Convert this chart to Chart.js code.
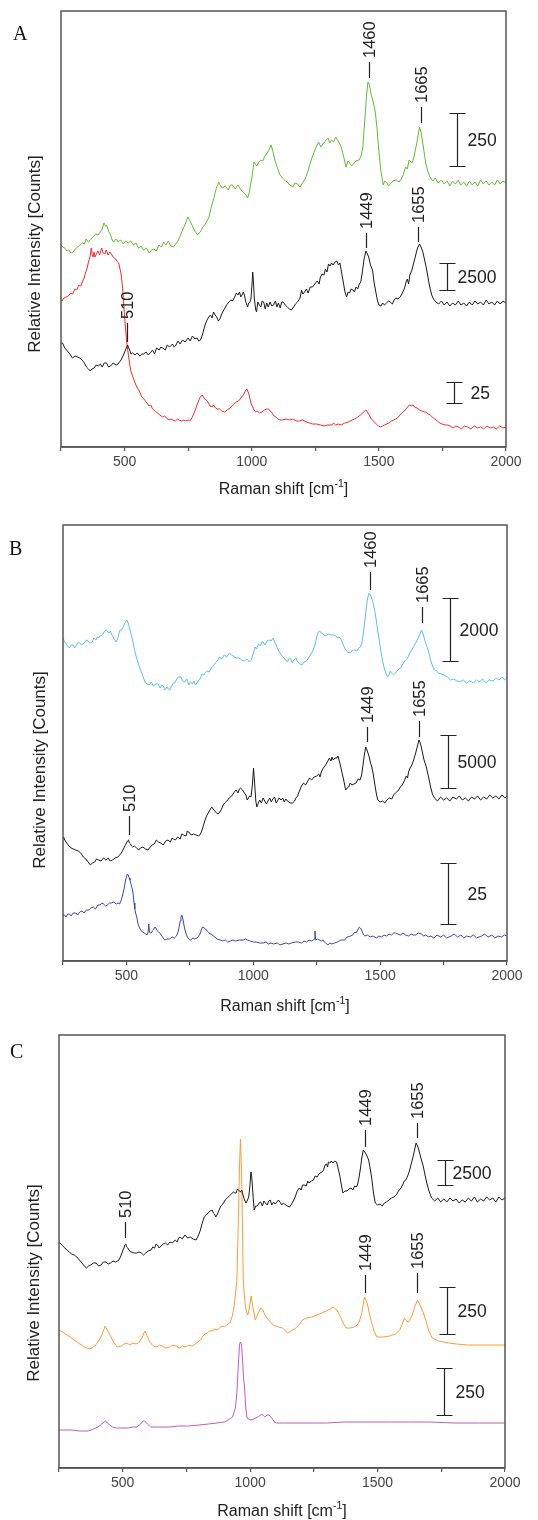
<!DOCTYPE html>
<html><head><meta charset="utf-8">
<script src="https://cdn.jsdelivr.net/npm/chart.js@4.4.0/dist/chart.umd.min.js"></script>
<style>
html,body{margin:0;padding:0;background:#fff;}
body{width:538px;height:1520px;position:relative;overflow:hidden;}
canvas{position:absolute;left:0;}
</style></head><body>
<canvas id="cA" width="538" height="510" style="top:0px"></canvas>
<canvas id="cB" width="538" height="510" style="top:510px"></canvas>
<canvas id="cC" width="538" height="500" style="top:1020px"></canvas>
<script>
// ===== DATA: [Raman shift cm-1, relative intensity (offset, arbitrary units)] =====
const spectrumA_green = [[250,202],[258,200],[265,199],[273,196],[280,197],[290,194],[298,195],[306,198],[315,200],[325,202],[335,204],[342,203],[349,208],[357,205],[365,207],[376,210],[387,213],[396,212],[405,215],[412,218],[419,224],[425,221],[430,222],[437,216],[445,212],[451,207],[457,205],[466,208],[475,205],[485,207],[495,203],[504,206],[514,204],[524,206],[535,202],[545,204],[555,199],[565,201],[575,197],[586,199],[597,194],[606,197],[615,198],[625,196],[635,202],[645,200],[654,205],[663,202],[672,206],[682,201],[692,200],[701,203],[710,206],[720,212],[730,218],[740,224],[749,230],[757,226],[765,222],[776,216],[787,212],[800,216],[808,220],[815,222],[824,226],[832,230],[841,240],[850,248],[860,258],[870,265],[878,261],[885,259],[896,261],[908,257],[916,262],[925,262],[935,258],[946,262],[955,258],[965,255],[975,253],[984,249],[990,254],[995,262],[1001,270],[1009,285],[1020,281],[1028,285],[1035,287],[1043,286],[1050,290],[1063,295],[1070,298],[1076,302],[1083,296],[1090,288],[1100,280],[1111,272],[1118,270],[1125,268],[1133,266],[1140,265],[1150,262],[1162,260],[1170,264],[1180,263],[1190,260],[1200,264],[1210,268],[1220,275],[1228,282],[1238,290],[1250,298],[1263,305],[1272,300],[1280,303],[1290,306],[1300,309],[1307,304],[1314,307],[1322,305],[1330,310],[1340,306],[1352,300],[1362,290],[1371,280],[1378,286],[1385,284],[1393,281],[1400,283],[1410,286],[1422,287],[1430,291],[1437,300],[1445,328],[1451,350],[1457,365],[1463,362],[1470,352],[1478,345],[1486,335],[1493,318],[1500,296],[1508,276],[1517,262],[1523,266],[1530,265],[1538,261],[1545,263],[1555,266],[1568,267],[1580,265],[1593,270],[1605,280],[1612,278],[1619,287],[1630,284],[1638,290],[1650,305],[1660,320],[1666,315],[1672,305],[1685,283],[1692,276],[1701,270],[1712,266],[1722,269],[1733,264],[1746,267],[1757,263],[1768,266],[1779,261],[1790,266],[1801,263],[1812,267],[1822,262],[1834,265],[1845,261],[1856,266],[1867,262],[1878,265],[1889,261],[1900,267],[1911,263],[1922,266],[1933,262],[1944,265],[1955,262],[1966,267],[1977,263],[1988,266],[2000,264]];
const spectrumA_black = [[250,104],[256,104],[265,99],[275,96],[285,93],[295,89],[305,91],[315,90],[324,89],[333,87],[342,84],[350,80],[358,78],[365,76],[372,78],[380,79],[388,82],[397,81],[405,83],[412,80],[420,84],[429,84],[437,80],[445,81],[455,84],[467,82],[474,83],[480,85],[486,87],[492,90],[499,94],[505,98],[512,102],[516,99],[520,97],[525,93],[531,94],[541,92],[550,94],[560,91],[568,93],[575,93],[585,95],[593,92],[600,94],[610,97],[618,93],[626,99],[636,97],[643,100],[650,99],[660,97],[668,102],[677,100],[688,103],[695,100],[700,101],[710,106],[718,103],[728,107],[738,105],[750,109],[758,106],[767,111],[777,108],[785,109],[792,106],[799,107],[806,112],[812,118],[818,123],[824,127],[831,130],[838,132],[844,129],[850,135],[856,132],[862,130],[869,126],[875,128],[882,133],[888,136],[895,139],[901,142],[910,145],[918,147],[925,146],[933,150],[940,154],[946,152],[952,155],[957,150],[962,152],[967,155],[971,152],[977,145],[984,140],[988,144],[993,145],[997,148],[1001,162],[1004,175],[1007,165],[1010,150],[1015,138],[1019,135],[1024,145],[1030,142],[1036,140],[1041,146],[1047,145],[1053,138],[1059,144],[1065,140],[1072,145],[1079,141],[1086,142],[1093,146],[1099,140],[1105,144],[1112,139],[1118,145],[1124,145],[1132,142],[1140,140],[1148,138],[1156,137],[1165,140],[1172,143],[1180,145],[1190,149],[1196,157],[1201,153],[1208,155],[1215,158],[1222,154],[1230,160],[1239,160],[1248,163],[1258,166],[1265,163],[1270,170],[1277,173],[1284,172],[1290,178],[1296,175],[1302,183],[1308,181],[1314,184],[1320,182],[1328,185],[1335,186],[1341,182],[1347,184],[1353,175],[1360,165],[1366,156],[1373,150],[1379,155],[1385,154],[1391,158],[1398,157],[1404,155],[1410,160],[1417,158],[1423,163],[1429,165],[1435,175],[1442,188],[1449,196],[1455,193],[1460,190],[1467,182],[1475,177],[1481,165],[1488,155],[1494,147],[1500,142],[1508,141],[1515,144],[1522,142],[1530,144],[1538,146],[1545,145],[1553,143],[1560,147],[1567,149],[1575,148],[1584,150],[1592,154],[1600,158],[1607,165],[1612,168],[1617,163],[1622,172],[1630,177],[1638,185],[1645,192],[1652,199],[1660,203],[1666,200],[1673,195],[1680,187],[1686,180],[1693,170],[1700,160],[1708,152],[1715,148],[1724,145],[1735,143],[1746,146],[1757,142],[1768,145],[1779,141],[1790,144],[1801,142],[1812,146],[1823,142],[1834,144],[1845,141],[1856,145],[1867,142],[1878,146],[1889,143],[1900,145],[1911,142],[1922,147],[1933,143],[1944,145],[1955,142],[1966,146],[1977,143],[1988,146],[2000,144]];
const spectrumA_red = [[250,147],[254,146],[262,149],[270,150],[279,151],[288,154],[296,153],[305,158],[312,157],[320,162],[328,161],[335,166],[340,168],[346,174],[352,178],[358,185],[364,190],[369,199],[373,192],[376,190],[380,195],[384,190],[389,193],[395,196],[402,192],[410,199],[416,194],[422,193],[428,197],[435,192],[442,195],[448,193],[455,190],[461,189],[467,187],[472,185],[477,184],[480,180],[485,175],[489,167],[492,160],[495,150],[499,134],[504,118],[509,104],[516,90],[524,77],[530,72],[537,67],[543,63],[550,59],[558,56],[568,50],[576,48],[588,44],[596,41],[603,42],[610,38],[620,36],[630,34],[639,32],[650,30],[657,31],[665,29],[675,27],[683,28],[690,27],[700,26],[708,28],[715,27],[725,26],[733,27],[741,26],[750,27],[757,26],[767,30],[775,35],[785,42],[792,47],[798,50],[805,52],[810,50],[815,48],[822,47],[830,44],[836,41],[843,40],[850,42],[858,39],[865,38],[874,38],[882,36],[894,35],[903,37],[915,39],[922,41],[930,43],[939,45],[948,46],[955,48],[960,50],[967,52],[975,56],[981,58],[986,55],[990,52],[995,46],[1000,42],[1007,38],[1015,35],[1022,36],[1030,34],[1040,35],[1050,37],[1058,38],[1066,38],[1073,36],[1080,34],[1088,31],[1095,30],[1103,28],[1111,27],[1122,27],[1135,28],[1150,27],[1162,28],[1175,26],[1188,26],[1200,27],[1215,25],[1228,24],[1239,23],[1255,23],[1270,22],[1285,21],[1300,22],[1315,22],[1322,24],[1330,22],[1340,23],[1352,22],[1366,24],[1380,25],[1395,27],[1405,28],[1417,30],[1428,32],[1440,35],[1449,37],[1455,35],[1462,32],[1468,29],[1475,27],[1482,25],[1490,23],[1498,21],[1507,20],[1515,21],[1522,22],[1530,23],[1540,24],[1550,26],[1558,27],[1566,28],[1573,29],[1580,31],[1590,34],[1600,36],[1610,39],[1620,42],[1628,41],[1635,42],[1640,40],[1650,39],[1660,37],[1670,36],[1680,35],[1686,35],[1694,33],[1702,32],[1710,30],[1720,28],[1730,26],[1740,24],[1749,23],[1760,22],[1770,22],[1780,21],[1792,19],[1803,21],[1813,20],[1825,18],[1836,21],[1850,20],[1862,18],[1875,21],[1888,19],[1900,20],[1912,18],[1925,21],[1938,19],[1950,20],[1962,18],[1975,21],[1988,19],[2000,20]];

const spectrumB_cyan = [[250,323],[255,320],[260,318],[268,315],[275,313],[282,316],[290,316],[296,313],[301,315],[308,318],[315,318],[324,316],[333,318],[342,321],[350,320],[357,318],[365,319],[372,323],[380,321],[385,324],[390,323],[397,325],[405,326],[414,330],[422,331],[427,329],[432,328],[437,330],[441,326],[446,325],[450,322],[455,321],[460,319],[465,322],[470,327],[475,331],[479,331],[485,333],[490,336],[496,339],[502,341],[507,338],[512,333],[518,327],[524,321],[530,314],[535,308],[540,303],[543,301],[550,295],[560,288],[567,283],[575,278],[582,277],[590,276],[598,279],[606,275],[615,277],[625,277],[633,273],[640,276],[645,275],[652,271],[660,274],[665,272],[670,271],[678,275],[685,278],[690,278],[698,282],[705,284],[715,284],[722,280],[730,279],[738,282],[746,276],[752,279],[760,277],[766,280],[772,276],[780,279],[790,282],[798,287],[805,286],[810,288],[818,290],[826,289],[835,293],[842,295],[850,298],[858,300],[867,304],[876,302],[885,306],[895,304],[906,308],[915,306],[925,304],[934,303],[944,303],[955,301],[965,300],[975,302],[985,299],[992,301],[998,306],[1003,310],[1007,314],[1013,312],[1020,317],[1028,315],[1033,319],[1039,319],[1046,316],[1055,320],[1062,321],[1070,320],[1078,323],[1084,319],[1090,316],[1096,312],[1103,309],[1110,306],[1120,303],[1128,301],[1135,299],[1142,303],[1148,302],[1154,298],[1160,301],[1168,303],[1175,299],[1184,297],[1192,296],[1200,299],[1210,300],[1220,304],[1230,308],[1238,312],[1245,318],[1250,324],[1256,329],[1262,330],[1268,328],[1275,327],[1282,325],[1290,326],[1298,327],[1307,326],[1315,326],[1325,325],[1332,323],[1338,324],[1345,322],[1352,318],[1358,314],[1364,311],[1372,309],[1383,308],[1392,311],[1400,311],[1408,310],[1415,313],[1422,314],[1428,318],[1434,328],[1440,341],[1445,352],[1450,362],[1456,368],[1462,366],[1468,362],[1474,356],[1479,350],[1485,340],[1492,328],[1498,318],[1504,308],[1510,300],[1516,293],[1522,288],[1529,284],[1535,286],[1540,290],[1545,288],[1553,286],[1561,288],[1570,291],[1580,293],[1590,297],[1600,301],[1608,303],[1615,307],[1622,310],[1631,314],[1640,318],[1648,322],[1655,326],[1663,331],[1669,327],[1675,322],[1682,316],[1689,311],[1695,305],[1700,300],[1707,295],[1714,291],[1722,290],[1730,288],[1740,287],[1752,286],[1765,284],[1778,281],[1790,282],[1803,280],[1816,279],[1828,281],[1840,278],[1853,280],[1867,278],[1880,281],[1890,279],[1904,282],[1918,278],[1930,281],[1945,280],[1957,283],[1968,281],[1980,284],[1990,281],[2000,283]];
const spectrumB_black = [[250,124],[253,123],[259,120],[265,118],[273,115],[282,113],[291,112],[300,111],[310,110],[320,108],[330,104],[340,102],[349,99],[358,96],[366,98],[375,99],[382,102],[390,101],[400,100],[410,103],[419,101],[428,103],[436,100],[445,101],[455,103],[466,104],[473,106],[480,108],[486,111],[492,114],[500,118],[504,120],[508,121],[512,118],[516,117],[520,115],[524,114],[532,115],[540,113],[548,111],[555,113],[565,114],[575,112],[585,111],[594,114],[602,116],[610,117],[618,121],[626,119],[636,118],[645,116],[655,120],[664,121],[673,119],[680,123],[685,122],[693,121],[702,124],[712,122],[718,127],[725,126],[735,125],[740,130],[746,129],[755,126],[765,127],[775,126],[785,125],[792,127],[798,131],[804,136],[810,141],[816,145],[822,148],[829,151],[836,154],[842,152],[848,150],[855,148],[861,147],[868,149],[875,152],[881,156],[887,158],[896,160],[905,163],[915,165],[925,169],[932,171],[940,168],[945,172],[950,173],[958,171],[965,168],[971,166],[976,161],[981,163],[985,165],[991,164],[996,175],[1001,193],[1006,175],[1010,160],[1014,154],[1020,158],[1025,161],[1032,158],[1039,163],[1045,160],[1052,157],[1058,160],[1065,163],[1071,159],[1077,162],[1084,164],[1090,158],[1095,160],[1102,163],[1109,161],[1116,163],[1122,159],[1128,162],[1135,160],[1145,158],[1154,158],[1163,160],[1168,163],[1175,165],[1182,170],[1190,175],[1198,178],[1206,176],[1215,180],[1222,183],[1230,181],[1240,184],[1250,185],[1258,187],[1263,184],[1268,189],[1276,193],[1285,196],[1292,199],[1300,203],[1306,200],[1310,204],[1315,201],[1322,203],[1330,203],[1334,205],[1338,201],[1344,195],[1350,188],[1357,180],[1364,171],[1370,173],[1376,174],[1382,178],[1389,176],[1397,177],[1405,178],[1413,182],[1421,181],[1427,186],[1432,195],[1437,205],[1443,214],[1448,211],[1452,208],[1457,204],[1462,198],[1467,194],[1472,188],[1477,180],[1482,172],[1486,166],[1491,161],[1500,159],[1510,160],[1518,158],[1527,161],[1536,163],[1546,162],[1553,166],[1560,168],[1570,170],[1580,174],[1587,176],[1595,180],[1603,185],[1608,183],[1612,189],[1618,193],[1625,196],[1632,201],[1640,208],[1646,214],[1653,221],[1658,218],[1663,213],[1668,207],[1672,202],[1677,198],[1682,194],[1690,185],[1698,175],[1706,167],[1714,163],[1726,160],[1738,164],[1750,161],[1762,163],[1775,160],[1787,164],[1800,162],[1812,165],[1824,161],[1836,163],[1848,160],[1860,164],[1872,162],[1884,165],[1896,161],[1908,164],[1920,162],[1932,166],[1944,163],[1956,165],[1968,162],[1980,166],[1992,163],[2000,165]];
const spectrumB_blue = [[250,46],[256,46],[262,44],[268,47],[275,47],[282,45],[290,48],[301,48],[308,46],[316,49],[325,50],[333,48],[342,51],[352,51],[360,53],[370,54],[378,52],[388,56],[396,56],[403,58],[410,57],[418,55],[425,56],[433,58],[441,58],[450,59],[460,57],[467,58],[473,57],[478,60],[482,63],[487,68],[492,74],[496,80],[500,84],[504,87],[507,86],[511,83],[514,81],[519,76],[524,71],[527,66],[530,58],[533,52],[536,48],[540,45],[545,38],[550,34],[556,31],[563,29],[570,28],[576,27],[581,26],[585,28],[588,37],[591,29],[594,28],[598,28],[602,30],[606,31],[610,33],[613,34],[618,32],[622,30],[627,29],[632,28],[640,25],[645,23],[651,21],[660,22],[670,22],[680,24],[689,23],[697,25],[702,28],[705,30],[709,36],[712,40],[715,44],[718,46],[721,44],[724,40],[729,33],[734,28],[740,24],[746,22],[753,21],[762,23],[770,22],[778,23],[785,25],[792,28],[796,32],[800,34],[806,33],[812,32],[818,30],[823,29],[829,27],[835,27],[842,25],[848,24],[858,22],[870,21],[880,20],[890,21],[899,19],[910,20],[920,21],[930,20],[945,21],[960,21],[970,22],[976,21],[988,20],[1000,19],[1012,19],[1025,18],[1039,18],[1050,19],[1060,17],[1070,18],[1080,17],[1095,18],[1105,16],[1116,17],[1130,18],[1140,17],[1150,18],[1165,19],[1179,19],[1190,18],[1200,20],[1210,19],[1220,21],[1230,20],[1237,21],[1240,22],[1243,30],[1246,21],[1253,22],[1260,21],[1268,20],[1275,21],[1280,19],[1285,18],[1290,17],[1294,16],[1302,18],[1310,17],[1320,18],[1332,19],[1345,21],[1360,21],[1370,24],[1383,25],[1392,26],[1400,29],[1405,28],[1412,31],[1418,34],[1422,33],[1425,32],[1430,29],[1435,26],[1440,25],[1450,26],[1460,24],[1472,25],[1485,23],[1495,25],[1505,24],[1515,26],[1525,25],[1535,27],[1545,26],[1553,28],[1561,28],[1570,27],[1580,26],[1590,28],[1600,26],[1612,25],[1622,27],[1630,26],[1640,26],[1650,28],[1663,27],[1672,25],[1680,26],[1690,24],[1700,25],[1712,23],[1724,26],[1739,24],[1750,26],[1762,23],[1780,25],[1792,27],[1805,24],[1818,26],[1830,23],[1841,25],[1855,24],[1868,26],[1880,23],[1900,25],[1912,27],[1925,24],[1940,26],[1952,23],[1965,25],[1978,24],[1990,26],[2000,25]];

const spectrumC_black = [[250,226],[258,224],[265,222],[273,220],[282,218],[290,216],[300,214],[310,213],[320,211],[330,208],[340,205],[349,202],[358,200],[366,202],[375,203],[385,205],[396,205],[405,202],[415,203],[424,206],[434,206],[443,204],[452,205],[462,207],[472,206],[479,207],[485,208],[491,211],[497,215],[501,218],[505,220],[508,223],[512,224],[516,221],[520,220],[527,217],[535,216],[545,215],[555,215],[564,216],[573,215],[582,213],[590,215],[600,217],[611,218],[618,221],[625,220],[631,224],[636,223],[643,220],[650,222],[659,224],[668,225],[676,223],[685,226],[695,225],[706,228],[714,226],[719,230],[725,231],[734,229],[744,233],[755,230],[765,231],[776,229],[788,228],[796,232],[805,238],[812,245],[820,251],[828,253],[835,255],[843,257],[851,258],[856,255],[860,254],[865,251],[870,253],[878,258],[885,262],[893,264],[902,268],[910,270],[918,272],[926,274],[934,276],[940,275],[945,275],[950,279],[953,278],[958,277],[962,276],[967,278],[972,273],[978,268],[984,265],[990,268],[995,272],[999,282],[1003,296],[1006,292],[1008,285],[1012,270],[1016,258],[1022,262],[1028,262],[1035,265],[1041,266],[1048,262],[1054,267],[1060,265],[1067,263],[1073,267],[1079,268],[1085,263],[1092,266],[1098,264],[1105,266],[1111,268],[1117,266],[1124,263],[1130,265],[1135,264],[1145,262],[1155,261],[1165,265],[1175,270],[1185,277],[1193,280],[1200,278],[1206,283],[1212,283],[1220,282],[1226,287],[1231,285],[1240,287],[1248,288],[1255,292],[1263,291],[1270,294],[1275,295],[1282,296],[1288,298],[1294,303],[1300,304],[1304,301],[1307,306],[1312,305],[1318,307],[1325,305],[1332,307],[1339,306],[1345,300],[1352,292],[1358,283],[1364,275],[1372,277],[1380,277],[1388,279],[1396,280],[1403,278],[1410,282],[1416,281],[1421,283],[1427,290],[1433,300],[1438,310],[1444,318],[1450,316],[1455,314],[1460,311],[1465,308],[1472,298],[1478,288],[1484,275],[1491,265],[1500,263],[1510,264],[1518,262],[1527,265],[1535,266],[1545,268],[1555,270],[1564,271],[1573,273],[1582,277],[1592,280],[1600,284],[1605,287],[1611,288],[1618,292],[1625,297],[1632,304],[1640,312],[1646,319],[1651,325],[1657,322],[1662,318],[1670,310],[1680,301],[1687,292],[1695,283],[1703,276],[1712,270],[1724,267],[1736,270],[1748,266],[1760,269],[1772,266],[1784,270],[1796,267],[1808,269],[1820,265],[1832,268],[1844,266],[1856,270],[1868,267],[1880,271],[1892,266],[1904,269],[1916,267],[1928,271],[1940,268],[1952,270],[1964,266],[1976,271],[1988,268],[2000,270]];
const spectrumC_orange = [[250,138],[270,135],[288,132],[305,129],[326,125],[350,121],[371,119],[390,122],[403,126],[418,133],[431,142],[442,137],[454,131],[466,125],[479,121],[495,122],[505,124],[517,125],[528,123],[540,125],[552,124],[562,125],[575,130],[587,137],[596,132],[606,126],[620,122],[632,121],[645,123],[655,122],[668,120],[683,121],[696,123],[710,122],[722,120],[734,122],[748,121],[760,123],[772,122],[785,124],[795,126],[805,128],[815,132],[823,134],[832,135],[840,137],[850,137],[861,139],[870,138],[880,140],[890,142],[899,141],[907,143],[915,144],[922,146],[930,152],[937,161],[943,175],[948,188],[953,240],[958,300],[962,329],[966,300],[970,240],[973,188],[978,170],[982,161],[987,155],[991,153],[997,160],[1004,172],[1010,162],[1020,148],[1030,154],[1042,160],[1050,158],[1058,153],[1072,148],[1090,143],[1110,141],[1128,140],[1147,135],[1160,137],[1179,140],[1195,144],[1205,148],[1222,150],[1243,151],[1262,153],[1281,155],[1300,157],[1315,159],[1326,161],[1340,158],[1351,153],[1365,145],[1377,140],[1392,140],[1408,141],[1420,143],[1428,146],[1438,155],[1449,171],[1460,164],[1472,150],[1485,138],[1497,131],[1520,131],[1548,132],[1570,134],[1587,138],[1597,144],[1606,150],[1614,147],[1621,146],[1635,152],[1647,162],[1657,168],[1667,163],[1678,156],[1689,148],[1700,138],[1714,130],[1740,127],[1778,125],[1810,124],[1855,123],[1900,123],[1950,123],[2000,123]];
const spectrumC_magenta = [[250,38],[275,38],[301,38],[330,37],[365,37],[385,39],[403,41],[418,44],[432,47],[445,44],[460,41],[475,40],[492,40],[520,40],[540,41],[556,41],[570,44],[580,47],[587,47],[597,44],[610,41],[619,41],[650,41],[683,41],[720,42],[759,42],[800,43],[836,44],[870,45],[899,46],[920,49],[931,51],[942,60],[948,75],[953,100],[958,122],[961,126],[966,124],[970,110],[974,90],[978,81],[983,60],[988,50],[1000,48],[1014,49],[1030,51],[1046,54],[1053,52],[1058,51],[1066,53],[1074,53],[1085,50],[1095,46],[1103,45],[1130,45],[1160,45],[1192,45],[1250,45],[1300,45],[1370,46],[1450,46],[1550,46],[1625,46],[1700,46],[1800,45],[1900,45],[2000,45]];

// x axis ticks (cm-1)
const xTickStep = 250;
const xLabelStep = 500;
const xMin = 250, xMax = 2000;

// peak labels: [text, position cm-1]
const peaksA = [['1460',1460],['1665',1665],['1449',1449],['1655',1655],['510',510]];
const peaksB = [['1460',1460],['1665',1665],['1449',1449],['1655',1655],['510',510]];
const peaksC = [['1449',1449],['1655',1655],['510',510],['1449',1449],['1655',1655]];
// intensity scale bars (counts)
const barsA = ['250','2500','25'];
const barsB = ['2000','5000','25'];
const barsC = ['2500','250','250'];

// ===== LAYOUT (positions/sizes, kept apart from data) =====
const SANS = '"Liberation Sans", Arial, Helvetica, sans-serif';
const SERIF = '"Liberation Serif", "Times New Roman", serif';

const decoPlugin = {
  id: 'deco',
  afterDraw(chart, args, o) {
    const {ctx, chartArea: ca} = chart;
    const xs = chart.scales.x, ys = chart.scales.y;
    ctx.save();
    ctx.strokeStyle = '#555'; ctx.lineWidth = 1.5;
    ctx.strokeRect(ca.left, ca.top, ca.right - ca.left, ca.bottom - ca.top);
    ctx.strokeStyle = '#222'; ctx.fillStyle = '#222'; ctx.lineWidth = 1.2;
    ctx.font = '16.5px ' + SANS;
    o.peaks.forEach(([t, xv], i) => {
      const [lo, hi] = o.peakPos[i];
      const px = Math.round(xs.getPixelForValue(xv)) + 0.5;
      const yl = ys.getPixelForValue(lo), yh = ys.getPixelForValue(hi);
      ctx.beginPath(); ctx.moveTo(px, yl); ctx.lineTo(px, yh); ctx.stroke();
      ctx.save(); ctx.translate(px, yh - 4); ctx.rotate(-Math.PI / 2);
      ctx.textAlign = 'left'; ctx.textBaseline = 'middle';
      ctx.fillText(t, 0, 1); ctx.restore();
    });
    ctx.font = '17.5px ' + SANS;
    o.bars.forEach((t, i) => {
      const [xv, lo, hi, dx] = o.barPos[i];
      const px = Math.round(xs.getPixelForValue(xv)) + 0.5;
      const yl = Math.round(ys.getPixelForValue(lo)) + 0.5, yh = Math.round(ys.getPixelForValue(hi)) + 0.5;
      ctx.beginPath();
      ctx.moveTo(px, yl); ctx.lineTo(px, yh);
      ctx.moveTo(px - 8, yl); ctx.lineTo(px + 8, yl);
      ctx.moveTo(px - 8, yh); ctx.lineTo(px + 8, yh);
      ctx.stroke();
      ctx.textAlign = 'left'; ctx.textBaseline = 'middle';
      ctx.fillText(t, px + dx, (yl + yh) / 2 + 1);
    });
    ctx.fillStyle = '#222';
    const f1 = '16px ' + SANS, f2 = '10.5px ' + SANS;
    ctx.font = f1; const w1 = ctx.measureText('Raman shift [cm').width, w3 = ctx.measureText(']').width;
    ctx.font = f2; const w2 = ctx.measureText('-1').width;
    const sx = (ca.left + ca.right) / 2 - (w1 + w2 + w3) / 2;
    const ty = o.xTitleY;
    ctx.textAlign = 'left'; ctx.textBaseline = 'middle';
    ctx.font = f1; ctx.fillText('Raman shift [cm', sx, ty);
    ctx.font = f2; ctx.fillText('-1', sx + w1, ty - 6);
    ctx.font = f1; ctx.fillText(']', sx + w1 + w2, ty);
    ctx.save(); ctx.translate(o.yTitle[0], o.yTitle[1]); ctx.rotate(-Math.PI / 2);
    ctx.font = '17px ' + SANS; ctx.textAlign = 'center'; ctx.textBaseline = 'middle';
    ctx.fillText('Relative Intensity [Counts]', 0, 0); ctx.restore();
    ctx.font = '20px ' + SERIF; ctx.fillStyle = '#111'; ctx.textAlign = 'left'; ctx.textBaseline = 'alphabetic';
    ctx.fillText(o.letter, o.letterPos[0], o.letterPos[1]);
    ctx.restore();
  }
};

function makeChart(id, sets, g, deco) {
  return new Chart(document.getElementById(id), {
    type: 'line',
    data: {
      datasets: sets.map(s => ({
        data: s.data.map(([x, y]) => ({x, y})),
        borderColor: s.color, borderWidth: 1, pointRadius: 0, tension: 0, fill: false
      }))
    },
    options: {
      responsive: false, animation: false, devicePixelRatio: 1,
      layout: {padding: {left: g.left, right: g.right, top: g.top, bottom: 0}},
      plugins: {legend: {display: false}, tooltip: {enabled: false}, deco},
      scales: {
        x: {
          type: 'linear', min: xMin, max: xMax,
          afterFit: (s) => { s.height = g.axisH; },
          ticks: {
            stepSize: xTickStep, autoSkip: false, maxRotation: 0, padding: 3,
            color: '#444', font: {size: 14, family: SANS},
            callback: v => (v % xLabelStep === 0 ? String(v) : '')
          },
          grid: {display: true, drawOnChartArea: false, drawTicks: true, tickLength: 4, color: '#555', lineWidth: 1.2},
          border: {display: true, color: '#555', width: 1.5}
        },
        y: {display: false, min: 0, max: g.ymax}
      }
    },
    plugins: [decoPlugin]
  });
}

makeChart('cA', [
  {data: spectrumA_green, color: '#66b935'},
  {data: spectrumA_black, color: '#1a1a1a'},
  {data: spectrumA_red, color: '#f52a2a'}
], {left: 61, right: 32, top: 11, axisH: 63, ymax: 436}, {
  peaks: peaksA, peakPos: [[369,385],[324,340],[199,214],[205,220],[105,124]],
  bars: barsA, barPos: [[1806,281,334,10],[1767,157,184,10],[1795,44,65,16]],
  xTitleY: 490, yTitle: [35, 254], letter: 'A', letterPos: [13, 40]
});

makeChart('cB', [
  {data: spectrumB_cyan, color: '#5cc2d8'},
  {data: spectrumB_black, color: '#1a1a1a'},
  {data: spectrumB_blue, color: '#3b48a8'}
], {left: 63, right: 31, top: 15, axisH: 59, ymax: 436}, {
  peaks: peaksB, peakPos: [[371,389],[338,354],[219,234],[224,240],[126,145]],
  bars: barsB, barPos: [[1775,300,363,9],[1767,173,226,9],[1767,37,98,19]],
  xTitleY: 497, yTitle: [40, 260], letter: 'B', letterPos: [9, 45]
});

makeChart('cC', [
  {data: spectrumC_black, color: '#1a1a1a'},
  {data: spectrumC_orange, color: '#ff9a33'},
  {data: spectrumC_magenta, color: '#c65ab6'}
], {left: 59, right: 33, top: 15, axisH: 52, ymax: 433}, {
  peaks: peaksC, peakPos: [[321,338],[330,345],[230,246],[175,193],[175,195]],
  bars: barsC, barPos: [[1764,283,308,7],[1771,134,181,10],[1760,53,100,11]],
  xTitleY: 492, yTitle: [34, 263], letter: 'C', letterPos: [10, 38]
});
</script>
</body></html>
